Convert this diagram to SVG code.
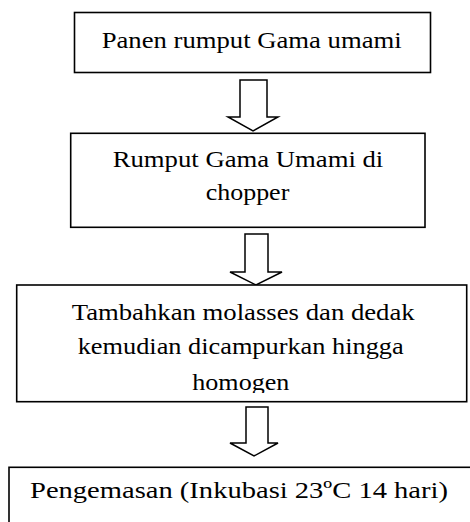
<svg xmlns="http://www.w3.org/2000/svg" width="470" height="522" viewBox="0 0 470 522">
<style>
.box{fill:#fff;stroke:#000;stroke-width:1.6}
.arr{fill:#fff;stroke:#000;stroke-width:1.5;stroke-linejoin:miter}
text{font-family:'Liberation Serif','DejaVu Serif',serif;font-size:24px;fill:#000}
</style>
<defs>
<clipPath id="c3"><rect x="17" y="286" width="449" height="107"/></clipPath>
</defs>
<rect width="470" height="522" fill="#fff"/>
<g id="connectors">
<polygon class="arr" points="240,80 267,80 267,117 278,117 253,131 228,117 240,117"/>
<polygon class="arr" points="245,234 268,234 268,272 282,272 256,285 230,272 245,272"/>
<polygon class="arr" points="246,407 268,407 268,443 278,443 254,456 230,443 246,443"/>
</g>
<g id="n1">
<rect class="box" x="74.5" y="12.5" width="356" height="60"/>
<text x="101.7" y="48" font-family="Liberation Serif, serif" textLength="300" lengthAdjust="spacingAndGlyphs">Panen rumput Gama umami</text>
</g>
<g id="n2">
<rect class="box" x="70.7" y="133.3" width="354.3" height="94"/>
<text x="112.7" y="167" font-family="Liberation Serif, serif" textLength="270.6" lengthAdjust="spacingAndGlyphs">Rumput Gama Umami di</text>
<text x="205.7" y="200" font-family="Liberation Serif, serif" textLength="83.6" lengthAdjust="spacingAndGlyphs">chopper</text>
</g>
<g id="n3">
<rect class="box" x="16.7" y="285" width="450" height="116.7"/>
<g clip-path="url(#c3)">
<text x="71.7" y="320" font-family="Liberation Serif, serif" textLength="343" lengthAdjust="spacingAndGlyphs">Tambahkan molasses dan dedak</text>
<text x="77.7" y="354" font-family="Liberation Serif, serif" textLength="326" lengthAdjust="spacingAndGlyphs">kemudian dicampurkan hingga</text>
<text x="192.3" y="390" font-family="Liberation Serif, serif" textLength="97" lengthAdjust="spacingAndGlyphs">homogen</text>
</g>
</g>
<g id="n4">
<rect class="box" x="9" y="467.3" width="470" height="100"/>
<text x="30" y="498" font-family="Liberation Serif, serif" textLength="418" lengthAdjust="spacingAndGlyphs">Pengemasan (Inkubasi 23ºC 14 hari)</text>
</g>
</svg>
